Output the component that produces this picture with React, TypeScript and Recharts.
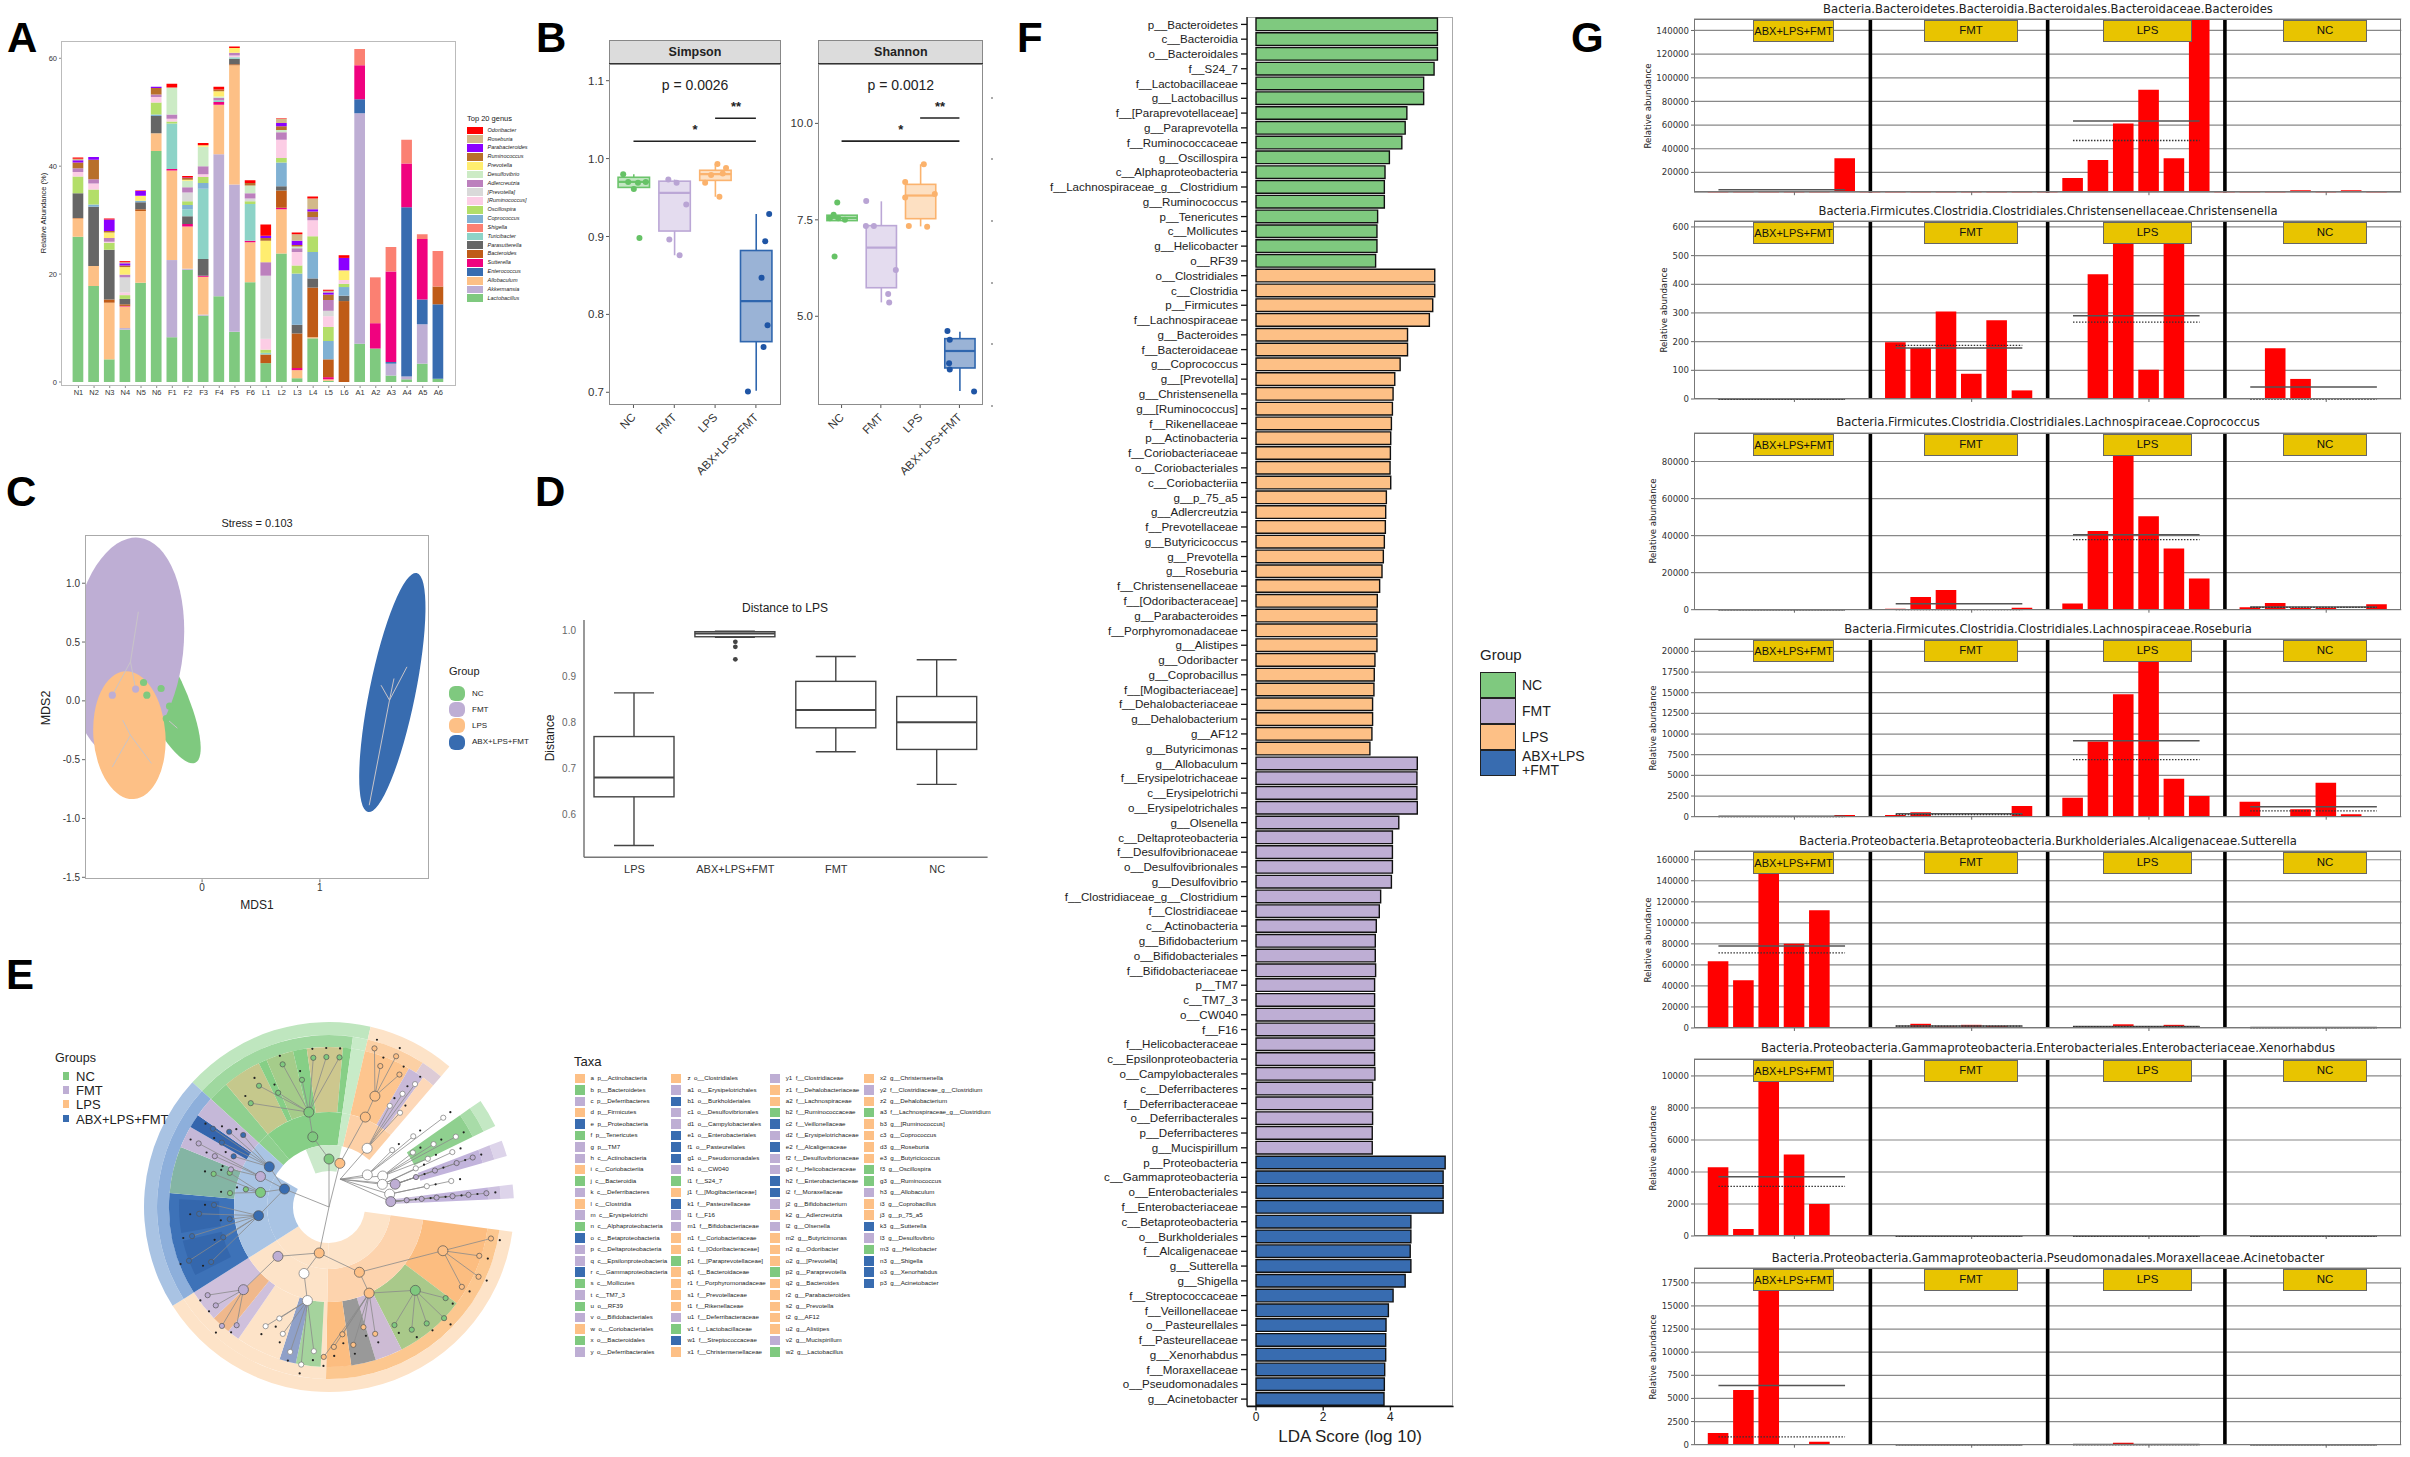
import React from 'react';
import {
  BarChart, Bar, XAxis, YAxis, ComposedChart, Scatter, ScatterChart, CartesianGrid,
  ReferenceLine, ReferenceArea, PieChart, Pie, Cell,
} from 'recharts';

const SANS = '"Liberation Sans", Arial, sans-serif';
const DEJAVU = '"DejaVu Sans", sans-serif';

const NC = '#7fc97f';
const FMT = '#beaed4';
const LPS = '#fdc086';
const ABX = '#386cb0';

// ---------- panel A ----------
const samples = ['N1', 'N2', 'N3', 'N4', 'N5', 'N6', 'F1', 'F2', 'F3', 'F4', 'F5', 'F6', 'L1', 'L2', 'L3', 'L4', 'L5', 'L6', 'A1', 'A2', 'A3', 'A4', 'A5', 'A6'];
const lactobacillus = [26.9, 17.8, 4.2, 9.7, 18.4, 42.8, 8.3, 20.8, 12.3, 15.9, 9.3, 18.5, 3.5, 23.8, 0.7, 8.1, 0.2, 0, 7.1, 6.2, 1.2, 0.5, 3.4, 0.6];
const akkermansia = [0, 0, 0, 0.3, 0, 0, 14.3, 0.2, 0.2, 26.3, 27.3, 0, 0, 0, 0, 0, 0, 0, 42.7, 0, 2.2, 0.5, 7.3, 0];
const allobaculum = [3.4, 3.7, 10.5, 4, 13.3, 3.3, 16.6, 7.8, 7, 9.2, 22.1, 7.4, 0, 8.2, 1.5, 0.2, 0.3, 0, 0, 0, 0, 0, 0, 0];
const enterococcus = [0, 0, 0, 0, 0, 0, 0, 0, 0, 0, 0, 0, 0, 0, 0, 0, 0, 0, 2.6, 0, 0.3, 31.4, 4.6, 13.8];
const sutterella = [0, 0, 0, 0.1, 0, 0, 0.3, 0.5, 0.2, 0.5, 0, 0.3, 0, 0.3, 0.4, 0, 0.4, 0, 6.3, 4.7, 16.8, 8.1, 11.2, 0];
const bacteroides = [0.1, 0, 0.6, 0.3, 0.3, 0, 0, 0, 0, 0, 0.2, 0, 1.6, 3.2, 6.4, 9.2, 3.3, 15, 0, 0, 0, 0, 0, 3.3];
const parasutterella = [4.6, 11, 9.2, 1, 1.3, 3.2, 0, 1.4, 3.1, 0, 1, 0, 0, 0.8, 1.6, 1.7, 0, 1, 0, 0, 0, 0, 0, 0];
const turicibacter = [0, 0, 0, 0, 0, 0, 8.4, 1.3, 13, 0.3, 0.3, 6.8, 0.3, 0, 0, 0, 0, 0, 0, 0, 0, 0, 0, 0];
const shigella = [0, 0, 0, 0, 0, 0, 0, 0, 0, 0, 0, 0, 0, 0, 0, 0, 0, 0, 3, 8.5, 4.5, 4.4, 0.9, 6.6];
const coprococcus = [0, 0.4, 0, 0, 0.3, 0.3, 0, 0.8, 1.1, 0, 0, 0, 0, 4.4, 9.5, 4.9, 3.4, 1.6, 0, 0, 0, 0, 0, 0];
const oscillospira = [3.1, 2.8, 1.3, 0.7, 0, 2.2, 0.4, 0.7, 1.1, 0, 0, 0.5, 0.6, 0.8, 1.5, 2.9, 2.6, 0.6, 0, 0, 0, 0, 0, 0];
const ruminococcusB = [0.8, 1.1, 0.2, 0.5, 0, 1, 0.5, 0, 0.5, 0, 0.3, 0, 2, 3.4, 2.5, 3, 2, 0.7, 0, 0, 0, 0, 0, 0];
const prevotellaB = [0, 0, 0, 2.8, 0, 0, 0, 1.6, 0, 0, 0, 0.5, 11.7, 0, 0, 0, 1, 0, 0, 0, 0, 0, 0, 0];
const adlercreutzia = [0.7, 0.8, 0.7, 0.5, 0, 0.5, 0.8, 1, 1.5, 0.5, 0.5, 1, 2.5, 1.4, 0.7, 0.6, 2, 0, 0, 0, 0, 0, 0, 0];
const desulfovibrio = [0, 0, 0, 0, 0, 0, 5, 1.2, 3.6, 0.2, 0, 1.4, 0, 0.4, 0.3, 0, 0, 0, 0, 0, 0, 0, 0, 0];
const prevotella = [0, 0, 1, 1.4, 0.9, 0, 0, 0.2, 0.3, 1, 0.9, 0, 4, 0, 0, 0, 0, 1.8, 0, 0, 0, 0, 0, 0];
const ruminococcus = [1.1, 3.6, 0.3, 0.3, 0, 1.2, 0, 0.3, 0, 0.3, 0, 0.5, 0.5, 0.7, 0.3, 1, 1, 0, 0, 0, 0, 0, 0, 0];
const parabacteroides = [0.4, 0.5, 2.1, 0.4, 0.9, 0.2, 0, 0.1, 0, 0, 0, 0, 0.4, 0.6, 0.8, 0.4, 0.4, 2.3, 0, 0, 0, 0, 0, 0];
const roseburia = [0.3, 0, 0, 0.2, 0, 0, 0, 0, 0, 0, 0, 0, 0, 0.8, 1.2, 2, 0.3, 0, 0, 0, 0, 0, 0, 0];
const odoribacter = [0.2, 0, 0.2, 0.2, 0.1, 0, 0.7, 0.3, 0.4, 0.5, 0.3, 0.5, 2.1, 0.1, 0.3, 0.4, 0.2, 0.5, 0, 0, 0, 0, 0, 0];

// bottom of the stack first
const genusNames = ['Lactobacillus', 'Akkermansia', 'Allobaculum', 'Enterococcus', 'Sutterella', 'Bacteroides', 'Parasutterella', 'Turicibacter', 'Shigella', 'Coprococcus', 'Oscillospira', '[Ruminococcus]', '[Prevotella]', 'Adlercreutzia', 'Desulfovibrio', 'Prevotella', 'Ruminococcus', 'Parabacteroides', 'Roseburia', 'Odoribacter'];
const genusColors = ['#7fc97f', '#beaed4', '#fdc086', '#386cb0', '#f0027f', '#bf5b17', '#666666', '#8dd3c7', '#fb8072', '#80b1d3', '#b3de69', '#fccde5', '#d9d9d9', '#bc80bd', '#ccebc5', '#ffed6f', '#b8702a', '#8b00ff', '#d2b98a', '#ff0000'];
const genusValues = [lactobacillus, akkermansia, allobaculum, enterococcus, sutterella, bacteroides, parasutterella, turicibacter, shigella, coprococcus, oscillospira, ruminococcusB, prevotellaB, adlercreutzia, desulfovibrio, prevotella, ruminococcus, parabacteroides, roseburia, odoribacter];
const stackRows = samples.map((sample, i) => {
  const row: any = { sample };
  genusNames.forEach((g, k) => { row[g] = genusValues[k][i]; });
  return row;
});

// ---------- panel B ----------
const boxGroups = ['NC', 'FMT', 'LPS', 'ABX+LPS+FMT'];
const boxStroke = ['#6cc46c', '#bba7d6', '#fbb36e', '#2f66ae'];
const boxFill = ['#c4e7c4', '#e4dcef', '#fde0c2', '#9ab3d6'];
const dotFill = ['#66c266', '#b9a4d4', '#fbb26c', '#1f55a5'];
// lo, q1, median, q3, hi
const simpsonBoxes = [[0.961, 0.963, 0.97, 0.976, 0.98], [0.876, 0.907, 0.956, 0.971, 0.973], [0.951, 0.972, 0.98, 0.985, 0.993], [0.702, 0.765, 0.817, 0.882, 0.929]];
const shannonBoxes = [[7.48, 7.48, 7.55, 7.62, 7.63], [5.36, 5.74, 6.78, 7.35, 7.98], [7.33, 7.53, 8.13, 8.42, 8.94], [3.06, 3.66, 4.1, 4.42, 4.6]];
const simpsonDots = [
  [[0.748, 0.98], [1.008, 0.961], [1.146, 0.898], [0.87, 0.97], [1.11, 0.969], [1.3, 0.97]],
  [[1.854, 0.973], [2.057, 0.969], [2.293, 0.941], [1.878, 0.896], [2.13, 0.876]],
  [[3.057, 0.993], [3.268, 0.988], [2.756, 0.969], [3.106, 0.951], [3.187, 0.981], [2.902, 0.979]],
  [[4.325, 0.929], [4.228, 0.894], [4.138, 0.847], [4.285, 0.786], [4.187, 0.758], [3.805, 0.701]],
];
const shannonDots = [
  [[0.89, 7.95], [0.822, 6.55], [0.797, 7.63], [0.703, 7.54], [1.085, 7.5], [0.915, 7.54]],
  [[1.627, 7.99], [1.619, 7.34], [1.822, 7.34], [2.381, 6.2], [2.186, 5.58], [2.212, 5.36]],
  [[3.093, 8.94], [2.619, 8.48], [3.373, 8.17], [2.619, 8.08], [2.712, 7.34], [3.178, 7.32]],
  [[3.695, 4.62], [3.754, 4.39], [3.737, 3.78], [3.754, 3.62], [4.373, 3.05]],
];
const strayDotY = [97, 158, 220, 282, 343, 405];

// ---------- panel C ----------
const ellipseNames = ['NC', 'FMT', 'LPS', 'ABX+LPS+FMT'];
const ellipseColors = [NC, FMT, LPS, ABX];
const ellipseCx = [-0.345, -0.634, -0.617, 1.615];
const ellipseCy = [0.09, 0.457, -0.292, 0.071];
const ellipseRx = [0.187, 0.475, 0.306, 0.195];
const ellipseRy = [0.68, 0.935, 0.544, 1.037];
const ellipseTilt = [-25, 6, -4, 11.5];
const ncPoints = [[-0.497, 0.156], [-0.348, 0.105], [-0.469, 0.048], [-0.276, -0.045], [-0.304, -0.15]];
const fmtPoints = [[-0.762, 0.048], [-0.564, 0.1]];
const spiders = [
  [1.591, 0.006, 1.739, 0.289], [1.591, 0.006, 1.629, 0.19], [1.591, 0.006, 1.519, 0.133], [1.591, 0.006, 1.419, -0.887],
  [-0.608, 0.332, -0.541, 0.757], [-0.608, 0.332, -0.564, 0.1], [-0.608, 0.332, -0.762, 0.048],
  [-0.608, -0.292, -0.674, -0.164], [-0.608, -0.292, -0.43, -0.532], [-0.608, -0.292, -0.762, -0.561],
  [-0.304, -0.15, -0.21, -0.232],
];

// ---------- panel D ----------
const distanceGroups = ['LPS', 'ABX+LPS+FMT', 'FMT', 'NC'];
const distanceBoxes = [[0.532, 0.638, 0.68, 0.769, 0.864], [0.985, 0.986, 0.993, 0.997, 0.998], [0.736, 0.788, 0.827, 0.889, 0.943], [0.665, 0.741, 0.8, 0.856, 0.936]];
const distanceOutliers = [[2, 0.975], [2, 0.964], [2, 0.937]];

// ---------- panel E ----------
// sector widths in degrees, clockwise from the upper left edge of the NC clade
const ringOuterW = [60.6, 27.6, 14.4, 9, 5, 5, 9, 4.3, 10.4, 140, 74.7];
const ringOuterC = ['#bfe6bf', '#fde3c8', 'none', '#c4e8c4', 'none', '#ddd4ea', 'none', '#ddd4ea', 'none', '#fde3c8', '#a9c3e3'];
const ringBandW = [55.6, 5, 20, 7.6, 14.4, 9, 5, 5, 9, 4.3, 10.4, 83.3, 56.7, 74.7];
const ringBandC = ['#9fd89f', '#c8ebc8', '#fcd0a4', '#ddcbd6', 'none', '#a8dca8', 'none', '#cec2e0', 'none', '#cec2e0', 'none', '#fcc78f', '#fde3c8', '#8dafdb'];
const ringCladeW = [7.6, 14, 3, 10, 5, 13, 3, 5, 17, 6, 4.6, 14.4, 9, 5, 5, 9, 4.3, 10.4, 29.3, 26, 10, 9, 9, 2, 9, 6, 16.5, 4.5, 7, 11.7, 37.3, 17, 8, 5, 7.4];
const ringCladeC = ['#8fd08f', '#c5c88c', '#86cf86', '#a5cc8a', '#86cf86', '#cdc78e', '#86cf86', '#c8ebc8', '#fdc58e', '#c8b9d8', '#fdd8b8', 'none', '#8fd08f', 'none', '#c2b4dc', 'none', '#c2b4dc', 'none', '#fcbd80', '#a9c98a', '#cdbbd4', '#999999', '#fcbd80', '#fde3c8', '#a5d39d', '#8fa0c8', '#fde3c8', '#cfc0dc', '#f0b88c', '#cfc0dc', '#3d72b8', '#84b5a4', '#c5b8d8', '#3465ad', '#c5b8d8'];
const ringDarkW = [290.6, 14, 3, 13, 39.4];
const ringDarkC = ['none', '#3467ad', 'none', '#3467ad', 'none'];
const ringMidW = [7.6, 48, 5, 27.6, 42.4, 4.3, 10.4, 83.3, 56.7, 74.7];
const ringMidC = ['#8fd08f', '#86cf86', '#c8ebc8', '#fdd0a6', 'none', '#cec2e0', 'none', '#fdd3ad', '#fde3c8', '#a9c4e4'];
const ringInnerW = [25.6, 34, 85.7, 83.3, 56.7, 62.3, 12.4];
const ringInnerC = ['none', '#cbe9cb', 'none', '#fde3c8', '#fde3c8', '#a9c4e4', 'none'];
// angle, radius, group (-1 = not significant); leaves as [angle, radius]
const clades: any[] = [
  { a: 0, r: 48, g: 0, from: [0, 0], leaves: [] },
  { a: -13, r: 72, g: 0, from: [0, 48], leaves: [] },
  { a: -12, r: 97, g: 0, from: [-13, 72], leaves: [[-37, 130], [-30, 140], [-24, 125], [-18, 150], [-12, 130], [-6, 150], [-1, 150], [4, 150]] },
  { a: 14, r: 45, g: 2, from: [0, 0], leaves: [] },
  { a: 22, r: 97, g: 2, from: [14, 45], leaves: [] },
  { a: 22.5, r: 120, g: 2, from: [22, 97], leaves: [[16, 165], [20, 150], [24, 165], [28, 150]] },
  { a: 33, r: 70, g: -1, from: [22, 30], leaves: [[31, 118], [33, 135], [35, 150], [37, 118]] },
  { a: 50, r: 50, g: -1, from: [22, 30], leaves: [[48, 85], [50, 110], [52, 145]] },
  { a: 60, r: 62, g: -1, from: [22, 30], leaves: [[57, 100], [59, 122], [61, 145], [64, 110]] },
  { a: 67, r: 58, g: -1, from: [22, 30], leaves: [[66, 95], [66, 135]] },
  { a: 71, r: 70, g: 1, from: [22, 30], leaves: [[71, 92], [71, 112], [71, 135], [71, 152]] },
  { a: 78, r: 62, g: -1, from: [22, 30], leaves: [[78, 100], [78, 125]] },
  { a: 85, r: 62, g: 1, from: [22, 30], leaves: [[85, 78], [85, 93], [85, 108], [85, 124], [85, 140], [85, 158]] },
  { a: 192, r: 47, g: 2, from: [0, 0], leaves: [] },
  { a: 155, r: 72, g: 2, from: [192, 47], leaves: [] },
  { a: 155, r: 95, g: 2, from: [155, 72], leaves: [[160, 135], [164, 125], [170, 140], [174, 128], [178, 140], [182, 150]] },
  { a: 134, r: 120, g: 0, from: [155, 95], leaves: [[128, 148], [134, 160], [140, 152], [146, 148], [151, 135]] },
  { a: 111, r: 122, g: 2, from: [155, 72], leaves: [[101, 165], [108, 158], [115, 165], [121, 155]] },
  { a: 200.6, r: 71, g: -1, from: [192, 47], leaves: [] },
  { a: 193, r: 96, g: -1, from: [200.6, 71], leaves: [[186, 145], [190, 160], [195, 150], [200, 135], [204, 122], [208, 135]] },
  { a: 226, r: 71, g: 1, from: [192, 47], leaves: [] },
  { a: 226, r: 119, g: 1, from: [226, 71], leaves: [[218, 150], [222, 160], [229, 150], [234, 150]] },
  { a: 292, r: 48, g: 3, from: [0, 0], leaves: [] },
  { a: 263, r: 71, g: 3, from: [292, 48], leaves: [[245, 130], [249, 150], [254, 110], [258, 140], [263, 100], [267, 130], [271, 115]] },
  { a: 304, r: 72, g: 3, from: [292, 48], leaves: [[298, 108], [301, 125], [304, 140], [307, 125], [310, 112]] },
  { a: 282, r: 70, g: 0, from: [292, 48], leaves: [[278, 100], [282, 85], [286, 120], [289, 105]] },
  { a: 294, r: 75, g: 1, from: [292, 48], leaves: [[291, 105], [294, 125], [296, 145]] },
];
const groupList = ['NC', 'FMT', 'LPS', 'ABX+LPS+FMT'];
const groupColors = [NC, FMT, LPS, ABX];
const taxaCol1 = ['L|a  p__Actinobacteria', 'N|b  p__Bacteroidetes', 'F|c  p__Deferribacteres', 'L|d  p__Firmicutes', 'A|e  p__Proteobacteria', 'N|f  p__Tenericutes', 'F|g  p__TM7', 'F|h  c__Actinobacteria', 'L|i  c__Coriobacteriia', 'N|j  c__Bacteroidia', 'F|k  c__Deferribacteres', 'L|l  c__Clostridia', 'F|m  c__Erysipelotrichi', 'N|n  c__Alphaproteobacteria', 'A|o  c__Betaproteobacteria', 'F|p  c__Deltaproteobacteria', 'F|q  c__Epsilonproteobacteria', 'A|r  c__Gammaproteobacteria', 'N|s  c__Mollicutes', 'F|t  c__TM7_3', 'N|u  o__RF39', 'F|v  o__Bifidobacteriales', 'L|w  o__Coriobacteriales', 'N|x  o__Bacteroidales', 'F|y  o__Deferribacterales'];
const taxaCol2 = ['L|z  o__Clostridiales', 'F|a1  o__Erysipelotrichales', 'A|b1  o__Burkholderiales', 'F|c1  o__Desulfovibrionales', 'F|d1  o__Campylobacterales', 'A|e1  o__Enterobacteriales', 'A|f1  o__Pasteurellales', 'A|g1  o__Pseudomonadales', 'F|h1  o__CW040', 'N|i1  f__S24_7', 'L|j1  f__[Mogibacteriaceae]', 'A|k1  f__Pasteurellaceae', 'F|l1  f__F16', 'F|m1  f__Bifidobacteriaceae', 'L|n1  f__Coriobacteriaceae', 'L|o1  f__[Odoribacteraceae]', 'N|p1  f__[Paraprevotellaceae]', 'L|q1  f__Bacteroidaceae', 'L|r1  f__Porphyromonadaceae', 'L|s1  f__Prevotellaceae', 'L|t1  f__Rikenellaceae', 'F|u1  f__Deferribacteraceae', 'N|v1  f__Lactobacillaceae', 'A|w1  f__Streptococcaceae', 'L|x1  f__Christensenellaceae'];
const taxaCol3 = ['F|y1  f__Clostridiaceae', 'L|z1  f__Dehalobacteriaceae', 'L|a2  f__Lachnospiraceae', 'N|b2  f__Ruminococcaceae', 'A|c2  f__Veillonellaceae', 'F|d2  f__Erysipelotrichaceae', 'A|e2  f__Alcaligenaceae', 'F|f2  f__Desulfovibrionaceae', 'F|g2  f__Helicobacteraceae', 'A|h2  f__Enterobacteriaceae', 'A|i2  f__Moraxellaceae', 'F|j2  g__Bifidobacterium', 'L|k2  g__Adlercreutzia', 'F|l2  g__Olsenella', 'L|m2  g__Butyricimonas', 'L|n2  g__Odoribacter', 'L|o2  g__[Prevotella]', 'N|p2  g__Paraprevotella', 'L|q2  g__Bacteroides', 'L|r2  g__Parabacteroides', 'L|s2  g__Prevotella', 'L|t2  g__AF12', 'L|u2  g__Alistipes', 'F|v2  g__Mucispirillum', 'N|w2  g__Lactobacillus'];
const taxaCol4 = ['L|x2  g__Christensenella', 'F|y2  f__Clostridiaceae_g__Clostridium', 'L|z2  g__Dehalobacterium', 'N|a3  f__Lachnospiraceae_g__Clostridium', 'L|b3  g__[Ruminococcus]', 'L|c3  g__Coprococcus', 'L|d3  g__Roseburia', 'L|e3  g__Butyricicoccus', 'N|f3  g__Oscillospira', 'N|g3  g__Ruminococcus', 'F|h3  g__Allobaculum', 'L|i3  g__Coprobacillus', 'L|j3  g__p_75_a5', 'A|k3  g__Sutterella', 'F|l3  g__Desulfovibrio', 'N|m3  g__Helicobacter', 'A|n3  g__Shigella', 'A|o3  g__Xenorhabdus', 'A|p3  g__Acinetobacter'];
const taxaColors: any = { N: NC, F: FMT, L: LPS, A: ABX };

// ---------- panel F ----------
const ldaNC = ['p__Bacteroidetes', 'c__Bacteroidia', 'o__Bacteroidales', 'f__S24_7', 'f__Lactobacillaceae', 'g__Lactobacillus', 'f__[Paraprevotellaceae]', 'g__Paraprevotella', 'f__Ruminococcaceae', 'g__Oscillospira', 'c__Alphaproteobacteria', 'f__Lachnospiraceae_g__Clostridium', 'g__Ruminococcus', 'p__Tenericutes', 'c__Mollicutes', 'g__Helicobacter', 'o__RF39'];
const ldaNCv = [5.4, 5.4, 5.4, 5.3, 4.99, 4.99, 4.49, 4.44, 4.34, 3.97, 3.84, 3.82, 3.82, 3.62, 3.6, 3.6, 3.56];
const ldaLPS = ['o__Clostridiales', 'c__Clostridia', 'p__Firmicutes', 'f__Lachnospiraceae', 'g__Bacteroides', 'f__Bacteroidaceae', 'g__Coprococcus', 'g__[Prevotella]', 'g__Christensenella', 'g__[Ruminococcus]', 'f__Rikenellaceae', 'p__Actinobacteria', 'f__Coriobacteriaceae', 'o__Coriobacteriales', 'c__Coriobacteriia', 'g__p_75_a5', 'g__Adlercreutzia', 'f__Prevotellaceae', 'g__Butyricicoccus', 'g__Prevotella', 'g__Roseburia', 'f__Christensenellaceae', 'f__[Odoribacteraceae]', 'g__Parabacteroides', 'f__Porphyromonadaceae', 'g__Alistipes', 'g__Odoribacter', 'g__Coprobacillus', 'f__[Mogibacteriaceae]', 'f__Dehalobacteriaceae', 'g__Dehalobacterium', 'g__AF12', 'g__Butyricimonas'];
const ldaLPSv = [5.32, 5.32, 5.26, 5.16, 4.51, 4.51, 4.29, 4.13, 4.08, 4.06, 4.03, 4.01, 4.0, 3.99, 4.01, 3.88, 3.86, 3.85, 3.82, 3.79, 3.75, 3.68, 3.61, 3.6, 3.6, 3.6, 3.54, 3.52, 3.51, 3.47, 3.47, 3.45, 3.39];
const ldaFMT = ['g__Allobaculum', 'f__Erysipelotrichaceae', 'c__Erysipelotrichi', 'o__Erysipelotrichales', 'g__Olsenella', 'c__Deltaproteobacteria', 'f__Desulfovibrionaceae', 'o__Desulfovibrionales', 'g__Desulfovibrio', 'f__Clostridiaceae_g__Clostridium', 'f__Clostridiaceae', 'c__Actinobacteria', 'g__Bifidobacterium', 'o__Bifidobacteriales', 'f__Bifidobacteriaceae', 'p__TM7', 'c__TM7_3', 'o__CW040', 'f__F16', 'f__Helicobacteraceae', 'c__Epsilonproteobacteria', 'o__Campylobacterales', 'c__Deferribacteres', 'f__Deferribacteraceae', 'o__Deferribacterales', 'p__Deferribacteres', 'g__Mucispirillum'];
const ldaFMTv = [4.8, 4.79, 4.79, 4.8, 4.25, 4.06, 4.06, 4.06, 4.03, 3.71, 3.67, 3.58, 3.55, 3.55, 3.56, 3.53, 3.53, 3.53, 3.53, 3.53, 3.53, 3.54, 3.47, 3.47, 3.47, 3.46, 3.46];
const ldaABX = ['p__Proteobacteria', 'c__Gammaproteobacteria', 'o__Enterobacteriales', 'f__Enterobacteriaceae', 'c__Betaproteobacteria', 'o__Burkholderiales', 'f__Alcaligenaceae', 'g__Sutterella', 'g__Shigella', 'f__Streptococcaceae', 'f__Veillonellaceae', 'o__Pasteurellales', 'f__Pasteurellaceae', 'g__Xenorhabdus', 'f__Moraxellaceae', 'o__Pseudomonadales', 'g__Acinetobacter'];
const ldaABXv = [5.63, 5.57, 5.57, 5.57, 4.61, 4.61, 4.59, 4.61, 4.44, 4.08, 3.94, 3.87, 3.86, 3.86, 3.83, 3.82, 3.81];
const ldaRows = [
  ...ldaNC.map((name, i) => ({ name, v: ldaNCv[i], c: NC })),
  ...ldaLPS.map((name, i) => ({ name, v: ldaLPSv[i], c: LPS })),
  ...ldaFMT.map((name, i) => ({ name, v: ldaFMTv[i], c: FMT })),
  ...ldaABX.map((name, i) => ({ name, v: ldaABXv[i], c: ABX })),
];

// ---------- panel G ----------
const gTitles = [
  'Bacteria.Bacteroidetes.Bacteroidia.Bacteroidales.Bacteroidaceae.Bacteroides',
  'Bacteria.Firmicutes.Clostridia.Clostridiales.Christensenellaceae.Christensenella',
  'Bacteria.Firmicutes.Clostridia.Clostridiales.Lachnospiraceae.Coprococcus',
  'Bacteria.Firmicutes.Clostridia.Clostridiales.Lachnospiraceae.Roseburia',
  'Bacteria.Proteobacteria.Betaproteobacteria.Burkholderiales.Alcaligenaceae.Sutterella',
  'Bacteria.Proteobacteria.Gammaproteobacteria.Enterobacteriales.Enterobacteriaceae.Xenorhabdus',
  'Bacteria.Proteobacteria.Gammaproteobacteria.Pseudomonadales.Moraxellaceae.Acinetobacter',
];
// six samples per group, with an empty slot between groups
const gBacteroides = [0, 0, 0, 0, 0, 32000, 0, 0, 0, 0, 0, 0, 0, 0, 15300, 30400, 61400, 89900, 32000, 150000, 0, 0, 0, 5000, 0, 5000, 0];
const gChristensenella = [0, 0, 0, 0, 0, 0, 0, 198, 178, 305, 88, 275, 30, 0, 0, 435, 600, 102, 620, 0, 0, 0, 177, 70, 0, 0, 0];
const gCoprococcus = [0, 0, 0, 0, 0, 0, 0, 500, 6800, 10600, 200, 300, 1000, 0, 3400, 42500, 90000, 50500, 33000, 16800, 0, 1300, 3600, 900, 900, 0, 2900];
const gRoseburia = [0, 0, 0, 0, 0, 200, 0, 200, 550, 0, 0, 0, 1300, 0, 2300, 9100, 14800, 19500, 4600, 2500, 0, 1800, 0, 900, 4100, 300, 0];
const gSutterella = [63500, 45500, 168000, 80000, 112000, 0, 0, 1000, 4000, 1500, 3000, 2000, 500, 0, 0, 1500, 3500, 1000, 3000, 0, 0, 0, 0, 500, 0, 0, 0];
const gXenorhabdus = [4300, 430, 11000, 5100, 2000, 0, 0, 0, 0, 0, 0, 0, 0, 0, 0, 0, 0, 0, 0, 0, 0, 0, 0, 0, 0, 0, 0];
const gAcinetobacter = [1250, 5900, 19000, 0, 330, 50, 0, 30, 0, 0, 0, 0, 0, 0, 0, 0, 200, 0, 0, 0, 0, 0, 0, 60, 0, 0, 0];
const gValues = [gBacteroides, gChristensenella, gCoprococcus, gRoseburia, gSutterella, gXenorhabdus, gAcinetobacter];
const gMeans = [[5300, -1, 63500, -1], [0, 178, 290, 42], [0, 3200, 40500, 1400], [50, 350, 9200, 1200], [78000, 2000, 1500, 500], [3700, 0, 0, 0], [6400, 0, 30, 0]];
const gMedians = [[-1, -1, 47000, -1], [0, 187, 268, 0], [0, 0, 37800, 1200], [0, 250, 6900, 700], [71500, 1700, 1300, 300], [3100, 0, 0, 0], [850, 0, 0, 0]];
const gTicks = [
  [20000, 40000, 60000, 80000, 100000, 120000, 140000],
  [0, 100, 200, 300, 400, 500, 600],
  [0, 20000, 40000, 60000, 80000],
  [0, 2500, 5000, 7500, 10000, 12500, 15000, 17500, 20000],
  [0, 20000, 40000, 60000, 80000, 100000, 120000, 140000, 160000],
  [0, 2000, 4000, 6000, 8000, 10000],
  [0, 2500, 5000, 7500, 10000, 12500, 15000, 17500],
];
const gDomains = [[3290, 149700], [0, 620.7], [0, 95400], [0, 21500], [0, 168300], [0, 11060], [0, 19100]];
const gTop = [19, 221.4, 433, 639.3, 851.4, 1059, 1268.3];
const gBottom = [192.2, 399.4, 609.7, 817, 1028.4, 1236, 1445];
const gTitleY = [10, 212, 423, 630, 841.5, 1049, 1258.5];
const gLabelX = [1648, 1664, 1653, 1653, 1648, 1653, 1653];
const gGroups = ['ABX+LPS+FMT', 'FMT', 'LPS', 'NC'];
const gGroupFirst = [0, 7, 14, 21];
const gTagLeft = [1753, 1924, 2103, 2283];
const gTagRight = [1834, 2018, 2192, 2367];
const slots = gBacteroides.map((_, i) => i);

// ---------- helpers ----------
function frame(x0: number, y0: number, x1: number, y1: number, L = 50, T = 6, R = 6, B = 30) {
  return {
    style: { position: 'absolute', left: x0 - L, top: y0 - T } as React.CSSProperties,
    width: x1 - x0 + L + R,
    height: y1 - y0 + T + B,
    margin: { top: T, right: R, left: 0, bottom: 0 },
  };
}

function T({ x, y, s = 10, a = 'middle', rot = 0, w = 400, c = '#222', f = SANS, i = false, children }: any) {
  const tx = a === 'middle' ? '-50%' : a === 'end' ? '-100%' : '0';
  return (
    <span
      style={{
        position: 'absolute', left: x, top: y, fontSize: s, fontWeight: w, color: c, fontFamily: f,
        fontStyle: i ? 'italic' : 'normal', whiteSpace: 'pre', lineHeight: 1,
        transform: `translate(${tx}, -50%) rotate(${rot}deg)`,
      }}
    >
      {children}
    </span>
  );
}

function Rect({ x0, y0, x1, y1, fill = 'none', line = '#999', lw = 1.5, r = 0 }: any) {
  return (
    <div
      style={{
        position: 'absolute', left: x0, top: y0, width: x1 - x0, height: y1 - y0, boxSizing: 'border-box',
        background: fill === 'none' ? 'transparent' : fill, border: lw ? `${lw}px solid ${line}` : 'none', borderRadius: r,
      }}
    />
  );
}

function boxShape(colors: (i: number) => [string, string], capWidth: number, sw: number) {
  return (p: any) => {
    const d = p.payload;
    const [stroke, fill] = colors(d.i);
    const py = (v: number) => p.y + (p.height * (d.hi - v)) / (d.hi - d.lo);
    const mid = p.x + p.width / 2;
    return (
      <g stroke={stroke} strokeWidth={sw}>
        <line x1={mid} x2={mid} y1={py(d.hi)} y2={py(d.lo)} />
        {capWidth > 0 && <line x1={mid - capWidth / 2} x2={mid + capWidth / 2} y1={py(d.hi)} y2={py(d.hi)} />}
        {capWidth > 0 && <line x1={mid - capWidth / 2} x2={mid + capWidth / 2} y1={py(d.lo)} y2={py(d.lo)} />}
        <rect x={p.x} width={p.width} y={py(d.q3)} height={py(d.q1) - py(d.q3)} fill={fill} />
        <line x1={p.x} x2={p.x + p.width} y1={py(d.med)} y2={py(d.med)} strokeWidth={sw + 0.6} />
      </g>
    );
  };
}

const toRows = (boxes: number[][]) =>
  boxes.map(([lo, q1, med, q3, hi], i) => ({ i, x: i + 1, lo, q1, med, q3, hi }));

const rotatedTick = (names: string[]) => (p: any) => (
  <text x={p.x + 3} y={p.y + 8} textAnchor="end" fontSize={11.5} fill="#333" transform={`rotate(-45 ${p.x + 3} ${p.y + 8})`}>
    {names[p.payload.value - 1]}
  </text>
);

function DiversityPanel({ x0, x1, boxes, dots, domain, ticks, sig, title, pv, tickFmt }: any) {
  const f = frame(x0, 64, x1, 405, 50, 6, 6, 80);
  return (
    <>
      <Rect x0={x0} y0={40} x1={x1} y1={64} fill="#dcdcdc" line="#888" />
      <div style={{ position: 'absolute', left: x0, top: 63, width: x1 - x0, height: 2, background: '#333' }} />
      <T x={(x0 + x1) / 2} y={52} s={12.5} w={700}>{title}</T>
      <div style={f.style}>
        <ComposedChart width={f.width} height={f.height} margin={f.margin} data={toRows(boxes)}>
          <XAxis type="number" dataKey="x" domain={[0.4, 4.6]} ticks={[1, 2, 3, 4]} allowDataOverflow height={80} tick={rotatedTick(boxGroups)} tickSize={3} stroke="#555" axisLine={false} interval={0} />
          {/* points jitter, so they get their own x axis or the bars collapse to the smallest gap */}
          <XAxis xAxisId="dots" type="number" dataKey="x" domain={[0.4, 4.6]} allowDataOverflow hide />
          <YAxis type="number" domain={domain} ticks={ticks} allowDataOverflow width={50} tick={{ fontSize: 11.5, fill: '#333' }} tickFormatter={tickFmt} tickSize={3} stroke="#555" axisLine={false} interval={0} />
          <Bar dataKey={(d: any) => [d.lo, d.hi]} barSize={((x1 - x0) / 4.2) * 0.77} isAnimationActive={false} shape={boxShape((i) => [boxStroke[i], boxFill[i]], 0, 1.6)} />
          {dots.map((pts: number[][], g: number) => (
            <Scatter
              key={g}
              xAxisId="dots"
              dataKey="y"
              data={pts.map(([x, y]) => ({ x, y }))}
              isAnimationActive={false}
              fill={dotFill[g]}
              shape={(p: any) => <circle cx={p.cx} cy={p.cy} r={3} fill={dotFill[g]} />}
            />
          ))}
          <ReferenceLine segment={[{ x: 3, y: sig[0] }, { x: 4, y: sig[0] }]} stroke="#222" strokeWidth={1.6} />
          <ReferenceLine segment={[{ x: 1, y: sig[1] }, { x: 4, y: sig[1] }]} stroke="#222" strokeWidth={1.6} />
        </ComposedChart>
      </div>
      <Rect x0={x0} y0={64} x1={x1} y1={405} line="#8c8c8c" />
      <T x={(x0 + x1) / 2} y={85} s={14}>{pv}</T>
    </>
  );
}

function PanelA() {
  const f = frame(61, 41, 455.8, 386, 30, 4, 4, 24);
  return (
    <>
      <div style={f.style}>
        <BarChart width={f.width} height={f.height} margin={f.margin} data={stackRows} barCategoryGap={0}>
          <XAxis dataKey="sample" height={24} padding={{ left: 9.6, right: 9.6 }} interval={0} tick={{ fontSize: 7.5, fill: '#333' }} tickSize={2} axisLine={false} stroke="#888" />
          <YAxis type="number" domain={[-0.74, 63.2]} ticks={[0, 20, 40, 60]} allowDataOverflow width={30} tick={{ fontSize: 7.5, fill: '#333' }} tickSize={2} axisLine={false} stroke="#888" />
          {genusNames.map((g, k) => (
            <Bar key={g} dataKey={g} stackId="a" fill={genusColors[k]} barSize={10.7} isAnimationActive={false} />
          ))}
        </BarChart>
      </div>
      <Rect x0={61} y0={41} x1={455.8} y1={386} line="#bbb" />
      <T x={44} y={213} s={7.5} rot={-90}>Relative Abundance (%)</T>
      <T x={467} y={119} s={7.5} a="start">Top 20 genus</T>
      {[...genusNames].reverse().map((g, k) => (
        <React.Fragment key={g}>
          <div style={{ position: 'absolute', left: 467, top: 126.5 + k * 8.84, width: 16, height: 7.8, background: genusColors[19 - k] }} />
          <T x={487.5} y={130.7 + k * 8.84} s={5.5} a="start" i>{g}</T>
        </React.Fragment>
      ))}
    </>
  );
}

function PanelC() {
  const f = frame(84.6, 535, 429.4, 879.3, 40, 4, 4, 30);
  return (
    <>
      <div style={f.style}>
        <ScatterChart width={f.width} height={f.height} margin={f.margin}>
          <XAxis type="number" dataKey="x" domain={[-0.994, 1.933]} ticks={[0, 1]} allowDataOverflow height={30} tick={{ fontSize: 10, fill: '#333' }} tickSize={3} stroke="#666" axisLine={false} />
          <YAxis type="number" dataKey="y" domain={[-1.517, 1.41]} ticks={[-1.5, -1, -0.5, 0, 0.5, 1]} tickFormatter={(v: number) => v.toFixed(1)} allowDataOverflow width={40} tick={{ fontSize: 10, fill: '#333' }} tickSize={3} stroke="#666" axisLine={false} interval={0} />
          {ellipseNames.map((n, i) => (
            <ReferenceArea
              key={n}
              x1={ellipseCx[i] - ellipseRx[i]}
              x2={ellipseCx[i] + ellipseRx[i]}
              y1={ellipseCy[i] - ellipseRy[i]}
              y2={ellipseCy[i] + ellipseRy[i]}
              ifOverflow="hidden"
              shape={(p: any) => {
                const cx = p.x + p.width / 2;
                const cy = p.y + p.height / 2;
                return (
                  <g clipPath={p.clipPath}>
                    <ellipse cx={cx} cy={cy} rx={p.width / 2} ry={p.height / 2} fill={ellipseColors[i]} transform={`rotate(${ellipseTilt[i]} ${cx} ${cy})`} />
                  </g>
                );
              }}
            />
          ))}
          {spiders.map(([a, b, c, d], i) => (
            <ReferenceLine key={i} segment={[{ x: a, y: b }, { x: c, y: d }]} stroke="#c8c4c8" strokeWidth={1} />
          ))}
          <Scatter data={ncPoints.map(([x, y]) => ({ x, y }))} fill={NC} isAnimationActive={false} shape={(p: any) => <circle cx={p.cx} cy={p.cy} r={3.6} fill={NC} />} />
          <Scatter data={fmtPoints.map(([x, y]) => ({ x, y }))} fill={FMT} isAnimationActive={false} shape={(p: any) => <circle cx={p.cx} cy={p.cy} r={3.6} fill={FMT} />} />
        </ScatterChart>
      </div>
      <Rect x0={84.6} y0={535} x1={429.4} y1={879.3} line="#aaa" />
      <T x={257} y={522.7} s={11}>Stress = 0.103</T>
      <T x={45.5} y={708} s={12.5} rot={-90}>MDS2</T>
      <T x={257} y={905} s={12}>MDS1</T>
      <T x={449} y={671} s={11} a="start">Group</T>
      {ellipseNames.map((n, i) => (
        <React.Fragment key={n}>
          <div style={{ position: 'absolute', left: 449, top: 686 + i * 16.2, width: 16, height: 15, borderRadius: 6, background: ellipseColors[i] }} />
          <T x={472} y={693.7 + i * 16.2} s={8} a="start">{n}</T>
        </React.Fragment>
      ))}
    </>
  );
}

function PanelD() {
  const f = frame(584, 620, 987.6, 857.3, 40, 4, 4, 30);
  return (
    <>
      <div style={f.style}>
        <ComposedChart width={f.width} height={f.height} margin={f.margin} data={toRows(distanceBoxes)}>
          <XAxis type="number" dataKey="x" domain={[0.5, 4.5]} ticks={[1, 2, 3, 4]} allowDataOverflow height={30} tickFormatter={(v: number) => distanceGroups[v - 1]} tick={{ fontSize: 11, fill: '#333' }} tickLine={false} stroke="#777" strokeWidth={1.5} interval={0} />
          <YAxis type="number" domain={[0.5065, 1.0224]} ticks={[0.6, 0.7, 0.8, 0.9, 1]} tickFormatter={(v: number) => v.toFixed(1)} allowDataOverflow width={40} tick={{ fontSize: 10, fill: '#666' }} tickLine={false} stroke="#777" strokeWidth={1.5} interval={0} />
          <Bar dataKey={(d: any) => [d.lo, d.hi]} barSize={80} isAnimationActive={false} shape={boxShape(() => ['#444', '#fff'], 40, 1.4)} />
          <Scatter dataKey="y" data={distanceOutliers.map(([x, y]) => ({ x, y }))} isAnimationActive={false} shape={(p: any) => <circle cx={p.cx} cy={p.cy} r={2.4} fill="#444" />} />
        </ComposedChart>
      </div>
      <T x={785} y={608} s={12}>Distance to LPS</T>
      <T x={550} y={738} s={12} rot={-90}>Distance</T>
    </>
  );
}

const polar = (a: number, r: number) => {
  const t = (a * Math.PI) / 180;
  return { x: r * Math.sin(t), y: r * Math.cos(t) };
};

function Ring({ widths, fills, inner, outer }: any) {
  return (
    <Pie
      data={widths.map((w: number) => ({ w }))}
      dataKey="w"
      cx={200}
      cy={200}
      startAngle={137.6}
      endAngle={-222.4}
      innerRadius={inner}
      outerRadius={outer}
      stroke="none"
      isAnimationActive={false}
      label={false}
      labelLine={false}
    >
      {widths.map((_: number, i: number) => <Cell key={i} fill={fills[i]} stroke="none" />)}
    </Pie>
  );
}

function PanelE() {
  const cx = 328.6;
  const cy = 1206.7;
  const pts: any[] = [];
  const links: any[] = [];
  clades.forEach((c) => {
    const p = polar(c.a, c.r);
    const par = polar(c.from[0], c.from[1]);
    links.push([par, p]);
    pts.push({ ...p, g: c.g, size: 5 });
    c.leaves.forEach(([a, r]: number[]) => {
      const q = polar(a, r);
      links.push([p, q]);
      pts.push({ ...q, g: c.g, size: 2.6 });
      pts.push({ ...polar(a, r + 9), g: -2, size: 1.1 });
    });
  });
  return (
    <>
      <div style={{ position: 'absolute', left: cx - 200, top: cy - 200 }}>
        <PieChart width={400} height={400} margin={{ top: 0, right: 0, bottom: 0, left: 0 }}>
          <Ring widths={ringOuterW} fills={ringOuterC} inner={172} outer={185} />
          <Ring widths={ringBandW} fills={ringBandC} inner={160} outer={172} />
          <Ring widths={ringCladeW} fills={ringCladeC} inner={95} outer={160} />
          <Ring widths={ringDarkW} fills={ringDarkC} inner={110} outer={150} />
          <Ring widths={ringMidW} fills={ringMidC} inner={62} outer={95} />
          <Ring widths={ringInnerW} fills={ringInnerC} inner={36} outer={62} />
        </PieChart>
      </div>
      <div style={{ position: 'absolute', left: cx - 200, top: cy - 200 }}>
        <ScatterChart width={400} height={400} margin={{ top: 0, right: 0, bottom: 0, left: 0 }}>
          <XAxis type="number" dataKey="x" domain={[-200, 200]} hide />
          <YAxis type="number" dataKey="y" domain={[-200, 200]} hide />
          {links.map(([p, q], i) => (
            <ReferenceLine key={i} segment={[{ x: p.x, y: p.y }, { x: q.x, y: q.y }]} stroke="#8a8a8a" strokeWidth={0.8} />
          ))}
          <Scatter
            data={pts}
            isAnimationActive={false}
            shape={(p: any) => {
              const d = p.payload;
              if (d.g === -2) return <circle cx={p.cx} cy={p.cy} r={d.size} fill="#222" />;
              return <circle cx={p.cx} cy={p.cy} r={d.size} fill={d.g < 0 ? '#fff' : groupColors[d.g]} stroke={d.g < 0 ? '#777' : '#555'} strokeWidth={0.7} />;
            }}
          />
        </ScatterChart>
      </div>
      <T x={55} y={1057.7} s={12.5} a="start">Groups</T>
      {groupList.map((g, i) => (
        <React.Fragment key={g}>
          <div style={{ position: 'absolute', left: 63, top: 1072 + i * 14.2, width: 5.5, height: 7.5, background: groupColors[i] }} />
          <T x={76} y={1076 + i * 14.2} s={13} a="start">{g}</T>
        </React.Fragment>
      ))}
      <T x={574} y={1061} s={13} a="start">Taxa</T>
      {[taxaCol1, taxaCol2, taxaCol3, taxaCol4].map((col, c) =>
        col.map((entry, i) => {
          const [k, label] = entry.split('|');
          const left = [574.5, 671.4, 769.7, 864][c];
          return (
            <React.Fragment key={label}>
              <div style={{ position: 'absolute', left, top: 1073.8 + i * 11.39, width: 10, height: 9.5, background: taxaColors[k] }} />
              <T x={left + 16} y={1078.3 + i * 11.39} s={6.2} a="start">{label}</T>
            </React.Fragment>
          );
        }),
      )}
    </>
  );
}

function PanelF() {
  const f = frame(1246.7, 16.5, 1453.3, 1406, 226, 2, 4, 40);
  return (
    <>
      <Rect x0={1246.7} y0={16.5} x1={1453.3} y1={1406} line="#aaa" />
      <div style={f.style}>
        <BarChart width={f.width} height={f.height} margin={f.margin} data={ldaRows} layout="vertical" barCategoryGap={0}>
          <XAxis type="number" domain={[-0.268, 5.881]} ticks={[0, 2, 4]} allowDataOverflow height={40} tick={{ fontSize: 12, fill: '#222' }} tickSize={4} stroke="#111" strokeWidth={1.3} />
          <YAxis type="category" dataKey="name" width={226} interval={0} tick={{ fontSize: 11.6, fill: '#222' }} tickSize={6} tickMargin={3} stroke="#111" strokeWidth={1.3} />
          <Bar dataKey="v" barSize={12.6} stroke="#111" strokeWidth={1.4} isAnimationActive={false}>
            {ldaRows.map((r) => <Cell key={r.name + r.v} fill={r.c} />)}
          </Bar>
        </BarChart>
      </div>
      <T x={1350} y={1436} s={17}>LDA Score (log 10)</T>
      <T x={1480} y={653.6} s={15} a="start">Group</T>
      {['NC', 'FMT', 'LPS', 'ABX+LPS\n+FMT'].map((g, i) => (
        <React.Fragment key={g}>
          <Rect x0={1480} y0={671.5 + i * 26} x1={1516} y1={697.5 + i * 26} fill={groupColors[i]} line="#222" lw={1} />
          <T x={1522} y={684.5 + i * 26} s={14} a="start">{g}</T>
        </React.Fragment>
      ))}
    </>
  );
}

function PanelG({ k }: { k: number }) {
  const x0 = 1693.9;
  const x1 = 2401.2;
  const y0 = gTop[k];
  const y1 = gBottom[k];
  const f = frame(x0, y0, x1, y1, 50, 2, 4, 10);
  const rows = slots.map((slot) => ({ slot, v: gValues[k][slot] }));
  return (
    <>
      <div style={f.style}>
        <BarChart width={f.width} height={f.height} margin={f.margin} data={rows} barCategoryGap={0}>
          <CartesianGrid vertical={false} stroke="#888" strokeWidth={1.2} />
          <XAxis dataKey="slot" ticks={[3, 10, 17, 24]} interval={0} height={10} padding={{ left: 11.76, right: 11.76 }} tickFormatter={() => ''} tickSize={3} stroke="#666" axisLine={false} />
          <YAxis type="number" domain={gDomains[k]} ticks={gTicks[k]} allowDataOverflow width={50} interval={0} tick={{ fontSize: 8.6, fill: '#333', fontFamily: DEJAVU }} tickSize={3} stroke="#666" axisLine={false} />
          <Bar dataKey="v" fill="#ff0000" barSize={20.6} isAnimationActive={false} />
          {[6, 13, 20].map((s) => <ReferenceLine key={s} x={s} stroke="#000" strokeWidth={3.6} />)}
          {gGroupFirst.map((s, i) => (
            <ReferenceLine key={`m${s}`} segment={[{ x: s, y: gMeans[k][i] }, { x: s + 5, y: gMeans[k][i] }]} stroke="#555" strokeWidth={1.5} />
          ))}
          {gGroupFirst.map((s, i) => (
            <ReferenceLine key={`d${s}`} segment={[{ x: s, y: gMedians[k][i] }, { x: s + 5, y: gMedians[k][i] }]} stroke="#333" strokeWidth={1.3} strokeDasharray="1.5 1.5" />
          ))}
        </BarChart>
      </div>
      <Rect x0={x0} y0={y0} x1={x1} y1={y1} line="#777" lw={1} />
      {gGroups.map((g, i) => (
        <React.Fragment key={g}>
          <Rect x0={gTagLeft[i]} y0={y0 + 1} x1={gTagRight[i]} y1={y0 + 23} fill="#e8c400" line="#666" lw={1} />
          <T x={(gTagLeft[i] + gTagRight[i]) / 2} y={y0 + 12} s={i === 0 ? 11 : 11.5} c="#111">{g}</T>
        </React.Fragment>
      ))}
      <T x={2048} y={gTitleY[k]} s={11.6} f={DEJAVU}>{gTitles[k]}</T>
      <T x={gLabelX[k]} y={(y0 + y1) / 2} s={8.6} rot={-90} f={DEJAVU}>Relative abundance</T>
    </>
  );
}

export default function App() {
  return (
    <div style={{ position: 'absolute', left: 0, top: 0, width: 2410, height: 1457, background: '#fff', overflow: 'hidden', fontFamily: SANS }}>
      <PanelA />
      <DiversityPanel
        x0={609.3} x1={780.7} title="Simpson" pv="p = 0.0026"
        boxes={simpsonBoxes} dots={simpsonDots} domain={[0.6837, 1.1214]} ticks={[0.7, 0.8, 0.9, 1, 1.1]}
        tickFmt={(v: number) => v.toFixed(1)} sig={[1.0517, 1.0222]}
      />
      <DiversityPanel
        x0={818.3} x1={983.3} title="Shannon" pv="p = 0.0012"
        boxes={shannonBoxes} dots={shannonDots} domain={[2.7, 11.54]} ticks={[5, 7.5, 10]}
        tickFmt={(v: number) => v.toFixed(1)} sig={[10.14, 9.54]}
      />
      <T x={695} y={129} s={13} w={700}>*</T>
      <T x={736} y={106} s={13} w={700}>**</T>
      <T x={900.7} y={129} s={13} w={700}>*</T>
      <T x={940} y={106} s={13} w={700}>**</T>
      {strayDotY.map((y) => (
        <div key={y} style={{ position: 'absolute', left: 991, top: y, width: 2, height: 2, background: '#aaa' }} />
      ))}
      <PanelC />
      <PanelD />
      <PanelE />
      <PanelF />
      {gTitles.map((_, k) => <PanelG key={k} k={k} />)}
      <T x={7} y={38} s={42} w={700} a="start" c="#000">A</T>
      <T x={536} y={38} s={42} w={700} a="start" c="#000">B</T>
      <T x={6} y={492} s={42} w={700} a="start" c="#000">C</T>
      <T x={535} y={492} s={42} w={700} a="start" c="#000">D</T>
      <T x={6} y={975} s={42} w={700} a="start" c="#000">E</T>
      <T x={1017} y={38} s={42} w={700} a="start" c="#000">F</T>
      <T x={1571} y={38} s={42} w={700} a="start" c="#000">G</T>
    </div>
  );
}
